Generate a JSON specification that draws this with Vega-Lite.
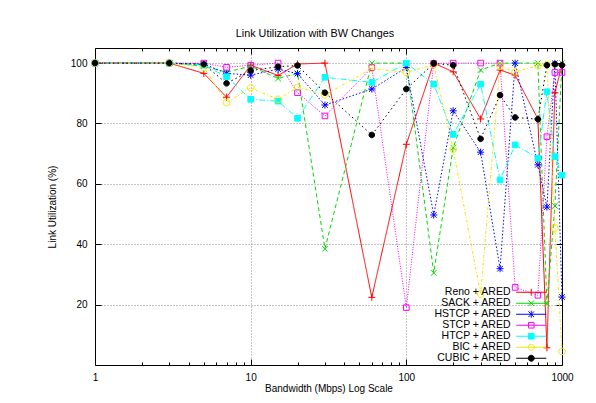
{
  "$schema": "https://vega.github.io/schema/vega-lite/v6.json",
  "width": 467,
  "height": 317,
  "autosize": {"type": "none"},
  "padding": {"left": 95, "top": 48, "right": 34, "bottom": 38},
  "background": "white",
  "title": {
    "text": "Link Utilization with BW Changes",
    "font": "Liberation Sans",
    "fontSize": 10.8,
    "fontWeight": "normal",
    "color": "#000",
    "frame": "group",
    "anchor": "middle",
    "dx": -13.5,
    "baseline": "alphabetic",
    "offset": -0.5
  },
  "config": {
    "view": {"stroke": "#000", "strokeWidth": 1},
    "font": "Liberation Sans",
    "axis": {
      "domain": false,
      "labelFont": "Liberation Sans",
      "labelFontSize": 10,
      "labelColor": "#000",
      "titleFont": "Liberation Sans",
      "titleFontSize": 10,
      "titleFontWeight": "normal",
      "titleColor": "#000",
      "tickColor": "#000",
      "tickWidth": 1,
      "gridColor": "#8a8a8a",
      "gridDash": [1, 2],
      "gridWidth": 1
    }
  },
  "data": {
    "values": [
      {"s": "Reno + ARED", "bw": 1, "u": 100}, {"s": "Reno + ARED", "bw": 3, "u": 100}, {"s": "Reno + ARED", "bw": 5, "u": 96.6}, {"s": "Reno + ARED", "bw": 7, "u": 88.7}, {"s": "Reno + ARED", "bw": 10, "u": 99.3}, {"s": "Reno + ARED", "bw": 15, "u": 95.9}, {"s": "Reno + ARED", "bw": 20, "u": 99.7}, {"s": "Reno + ARED", "bw": 30, "u": 100}, {"s": "Reno + ARED", "bw": 60, "u": 22.4}, {"s": "Reno + ARED", "bw": 100, "u": 73.1}, {"s": "Reno + ARED", "bw": 150, "u": 100}, {"s": "Reno + ARED", "bw": 200, "u": 97.1}, {"s": "Reno + ARED", "bw": 300, "u": 81.5}, {"s": "Reno + ARED", "bw": 400, "u": 97.7}, {"s": "Reno + ARED", "bw": 500, "u": 96}, {"s": "Reno + ARED", "bw": 700, "u": 81.5}, {"s": "Reno + ARED", "bw": 800, "u": 5.7}, {"s": "Reno + ARED", "bw": 900, "u": 90.2}, {"s": "Reno + ARED", "bw": 1000, "u": 99.3},
      {"s": "SACK + ARED", "bw": 1, "u": 100}, {"s": "SACK + ARED", "bw": 3, "u": 100}, {"s": "SACK + ARED", "bw": 5, "u": 99}, {"s": "SACK + ARED", "bw": 7, "u": 97}, {"s": "SACK + ARED", "bw": 10, "u": 99}, {"s": "SACK + ARED", "bw": 15, "u": 94.9}, {"s": "SACK + ARED", "bw": 20, "u": 96.6}, {"s": "SACK + ARED", "bw": 30, "u": 38.5}, {"s": "SACK + ARED", "bw": 60, "u": 100}, {"s": "SACK + ARED", "bw": 100, "u": 100}, {"s": "SACK + ARED", "bw": 150, "u": 30.5}, {"s": "SACK + ARED", "bw": 200, "u": 72}, {"s": "SACK + ARED", "bw": 300, "u": 97.7}, {"s": "SACK + ARED", "bw": 400, "u": 100}, {"s": "SACK + ARED", "bw": 500, "u": 100}, {"s": "SACK + ARED", "bw": 700, "u": 100}, {"s": "SACK + ARED", "bw": 800, "u": 20.3}, {"s": "SACK + ARED", "bw": 900, "u": 52.7}, {"s": "SACK + ARED", "bw": 1000, "u": 100},
      {"s": "HSTCP + ARED", "bw": 1, "u": 100}, {"s": "HSTCP + ARED", "bw": 3, "u": 100}, {"s": "HSTCP + ARED", "bw": 5, "u": 99.7}, {"s": "HSTCP + ARED", "bw": 7, "u": 96.6}, {"s": "HSTCP + ARED", "bw": 10, "u": 96}, {"s": "HSTCP + ARED", "bw": 15, "u": 98}, {"s": "HSTCP + ARED", "bw": 20, "u": 96.5}, {"s": "HSTCP + ARED", "bw": 30, "u": 86.1}, {"s": "HSTCP + ARED", "bw": 60, "u": 91.4}, {"s": "HSTCP + ARED", "bw": 100, "u": 98.5}, {"s": "HSTCP + ARED", "bw": 150, "u": 49.7}, {"s": "HSTCP + ARED", "bw": 200, "u": 84.2}, {"s": "HSTCP + ARED", "bw": 300, "u": 70.5}, {"s": "HSTCP + ARED", "bw": 400, "u": 31.9}, {"s": "HSTCP + ARED", "bw": 500, "u": 100}, {"s": "HSTCP + ARED", "bw": 700, "u": 66.3}, {"s": "HSTCP + ARED", "bw": 800, "u": 52.3}, {"s": "HSTCP + ARED", "bw": 900, "u": 99.9}, {"s": "HSTCP + ARED", "bw": 1000, "u": 22.5},
      {"s": "STCP + ARED", "bw": 1, "u": 100}, {"s": "STCP + ARED", "bw": 3, "u": 100}, {"s": "STCP + ARED", "bw": 5, "u": 100}, {"s": "STCP + ARED", "bw": 7, "u": 98.6}, {"s": "STCP + ARED", "bw": 10, "u": 99.3}, {"s": "STCP + ARED", "bw": 15, "u": 100}, {"s": "STCP + ARED", "bw": 20, "u": 90.2}, {"s": "STCP + ARED", "bw": 30, "u": 82.5}, {"s": "STCP + ARED", "bw": 60, "u": 98.5}, {"s": "STCP + ARED", "bw": 100, "u": 19}, {"s": "STCP + ARED", "bw": 150, "u": 99.9}, {"s": "STCP + ARED", "bw": 200, "u": 100}, {"s": "STCP + ARED", "bw": 300, "u": 100}, {"s": "STCP + ARED", "bw": 400, "u": 100}, {"s": "STCP + ARED", "bw": 500, "u": 25.7}, {"s": "STCP + ARED", "bw": 700, "u": 23.1}, {"s": "STCP + ARED", "bw": 800, "u": 75.6}, {"s": "STCP + ARED", "bw": 900, "u": 96.9}, {"s": "STCP + ARED", "bw": 1000, "u": 96.9},
      {"s": "HTCP + ARED", "bw": 1, "u": 100}, {"s": "HTCP + ARED", "bw": 3, "u": 100}, {"s": "HTCP + ARED", "bw": 5, "u": 99.3}, {"s": "HTCP + ARED", "bw": 7, "u": 95.5}, {"s": "HTCP + ARED", "bw": 10, "u": 88}, {"s": "HTCP + ARED", "bw": 15, "u": 87.4}, {"s": "HTCP + ARED", "bw": 20, "u": 81.7}, {"s": "HTCP + ARED", "bw": 30, "u": 95.3}, {"s": "HTCP + ARED", "bw": 60, "u": 93.6}, {"s": "HTCP + ARED", "bw": 100, "u": 100}, {"s": "HTCP + ARED", "bw": 150, "u": 93}, {"s": "HTCP + ARED", "bw": 200, "u": 76.4}, {"s": "HTCP + ARED", "bw": 300, "u": 93}, {"s": "HTCP + ARED", "bw": 400, "u": 61.3}, {"s": "HTCP + ARED", "bw": 500, "u": 72.9}, {"s": "HTCP + ARED", "bw": 700, "u": 68.5}, {"s": "HTCP + ARED", "bw": 800, "u": 90.5}, {"s": "HTCP + ARED", "bw": 900, "u": 69}, {"s": "HTCP + ARED", "bw": 1000, "u": 62.9},
      {"s": "BIC + ARED", "bw": 1, "u": 100}, {"s": "BIC + ARED", "bw": 3, "u": 100}, {"s": "BIC + ARED", "bw": 5, "u": 98.6}, {"s": "BIC + ARED", "bw": 7, "u": 86.9}, {"s": "BIC + ARED", "bw": 10, "u": 91.8}, {"s": "BIC + ARED", "bw": 15, "u": 88}, {"s": "BIC + ARED", "bw": 20, "u": 92}, {"s": "BIC + ARED", "bw": 30, "u": 89.5}, {"s": "BIC + ARED", "bw": 60, "u": 98.2}, {"s": "BIC + ARED", "bw": 100, "u": 96.9}, {"s": "BIC + ARED", "bw": 150, "u": 99.5}, {"s": "BIC + ARED", "bw": 200, "u": 71.4}, {"s": "BIC + ARED", "bw": 300, "u": 23.5}, {"s": "BIC + ARED", "bw": 400, "u": 99}, {"s": "BIC + ARED", "bw": 500, "u": 97.1}, {"s": "BIC + ARED", "bw": 700, "u": 99.1}, {"s": "BIC + ARED", "bw": 800, "u": 99.5}, {"s": "BIC + ARED", "bw": 900, "u": 45.4}, {"s": "BIC + ARED", "bw": 1000, "u": 4.5},
      {"s": "CUBIC + ARED", "bw": 1, "u": 100}, {"s": "CUBIC + ARED", "bw": 3, "u": 100}, {"s": "CUBIC + ARED", "bw": 5, "u": 99.6}, {"s": "CUBIC + ARED", "bw": 7, "u": 93.3}, {"s": "CUBIC + ARED", "bw": 10, "u": 97.5}, {"s": "CUBIC + ARED", "bw": 15, "u": 98.8}, {"s": "CUBIC + ARED", "bw": 20, "u": 99.2}, {"s": "CUBIC + ARED", "bw": 30, "u": 90.2}, {"s": "CUBIC + ARED", "bw": 60, "u": 76.2}, {"s": "CUBIC + ARED", "bw": 100, "u": 91.4}, {"s": "CUBIC + ARED", "bw": 150, "u": 99.9}, {"s": "CUBIC + ARED", "bw": 200, "u": 99.3}, {"s": "CUBIC + ARED", "bw": 300, "u": 74.9}, {"s": "CUBIC + ARED", "bw": 400, "u": 89.4}, {"s": "CUBIC + ARED", "bw": 500, "u": 82}, {"s": "CUBIC + ARED", "bw": 700, "u": 81.4}, {"s": "CUBIC + ARED", "bw": 800, "u": 99.3}, {"s": "CUBIC + ARED", "bw": 900, "u": 99.6}, {"s": "CUBIC + ARED", "bw": 1000, "u": 99.3}
    ]
  },
  "layer": [
    {
      "mark": {"type": "line", "strokeWidth": 1},
      "encoding": {
        "x": {
          "field": "bw", "type": "quantitative",
          "scale": {"type": "log", "domain": [1, 1000], "nice": false},
          "axis": {
            "orient": "bottom",
            "title": "Bandwidth (Mbps) Log Scale",
            "values": [1, 2, 3, 4, 5, 6, 7, 8, 9, 10, 20, 30, 40, 50, 60, 70, 80, 90, 100, 200, 300, 400, 500, 600, 700, 800, 900, 1000],
            "labelExpr": "indexof([1, 10, 100, 1000], datum.value) >= 0 ? format(datum.value, 'd') : ''",
            "tickSize": {"condition": {"test": "indexof([1, 10, 100, 1000], datum.value) >= 0", "value": -6}, "value": -3},
            "labelPadding": 13,
            "labelOverlap": false,
            "labelFlush": false,
            "grid": true,
            "gridOpacity": {"condition": {"test": "datum.value == 10 || datum.value == 100", "value": 1}, "value": 0},
            "titleX": 233.5,
            "titleY": 23,
            "titleBaseline": "middle",
            "titleAlign": "center"
          }
        },
        "y": {
          "field": "u", "type": "quantitative",
          "scale": {"domain": [0, 105], "nice": false, "zero": false},
          "axis": {
            "orient": "left",
            "title": "Link Utilization (%)",
            "values": [20, 40, 60, 80, 100],
            "tickSize": -6,
            "labelPadding": 14,
            "grid": true,
            "titleX": -43,
            "titleY": 158.5,
            "titleAngle": -90,
            "titleBaseline": "middle",
            "titleAlign": "center"
          }
        },
        "color": {
          "field": "s", "type": "nominal",
          "scale": {
            "domain": ["Reno + ARED", "SACK + ARED", "HSTCP + ARED", "STCP + ARED", "HTCP + ARED", "BIC + ARED", "CUBIC + ARED"],
            "range": ["#ff0000", "#00d800", "#0000ff", "#ff00ff", "#00ffff", "#f0e800", "#000000"]
          },
          "legend": {
            "orient": "none",
            "legendX": 431,
            "legendY": 239,
            "title": null,
            "padding": 0,
            "rowPadding": -1.8,
            "labelFont": "Liberation Sans",
            "labelFontSize": 10.5,
            "labelColor": "#000",
            "labelAlign": "right",
            "labelOffset": -26,
            "labelLimit": 200,
            "symbolSize": 49,
            "symbolStrokeWidth": 1,
            "encode": {
              "symbols": {
                "update": {
                  "shape": {"signal": "datum.value === 'Reno + ARED' ? 'M-4.3,0H4.3M0,-1V1' : datum.value === 'SACK + ARED' ? 'M-4.3,0H4.3M-0.8,-0.8L0.8,0.8M-0.8,0.8L0.8,-0.8' : datum.value === 'HSTCP + ARED' ? 'M-4.3,0H4.3M0,-1V1M-0.8,-0.8L0.8,0.8M-0.8,0.8L0.8,-0.8' : (datum.value === 'STCP + ARED' || datum.value === 'HTCP + ARED') ? 'M-4.3,0H4.3M-0.8,-0.8H0.8V0.8H-0.8Z' : 'M-4.3,0H4.3M0.85,0A0.85,0.85,0,1,1,-0.85,0A0.85,0.85,0,1,1,0.85,0Z'"},
                  "fill": {"signal": "datum.value === 'HTCP + ARED' ? '#00ffff' : datum.value === 'CUBIC + ARED' ? '#000000' : 'transparent'"},
                  "opacity": {"value": 1}
                }
              }
            }
          }
        },
        "strokeDash": {
          "field": "s", "type": "nominal",
          "sort": null,
          "scale": {
            "range": [[1, 0], [4, 3], [1.5, 2], [1, 1.5], [6, 2, 1, 2], [3, 2, 1, 2], [1.5, 3]]
          },
          "legend": null
        }
      }
    },
    {
      "mark": {"type": "point", "filled": false, "strokeWidth": 1, "size": 49, "opacity": 1},
      "encoding": {
        "x": {
          "field": "bw", "type": "quantitative",
          "scale": {"type": "log", "domain": [1, 1000], "nice": false},
          "axis": {
            "orient": "top",
            "title": null,
            "labels": false,
            "grid": false,
            "values": [1, 2, 3, 4, 5, 6, 7, 8, 9, 10, 20, 30, 40, 50, 60, 70, 80, 90, 100, 200, 300, 400, 500, 600, 700, 800, 900, 1000],
            "tickSize": {"condition": {"test": "indexof([1, 10, 100, 1000], datum.value) >= 0", "value": -6}, "value": -3}
          }
        },
        "y": {
          "field": "u", "type": "quantitative",
          "scale": {"domain": [0, 105], "nice": false, "zero": false},
          "axis": {
            "orient": "right",
            "title": null,
            "labels": false,
            "grid": false,
            "values": [20, 40, 60, 80, 100],
            "tickSize": -6
          }
        },
        "color": {
          "field": "s", "type": "nominal",
          "scale": {
            "domain": ["Reno + ARED", "SACK + ARED", "HSTCP + ARED", "STCP + ARED", "HTCP + ARED", "BIC + ARED", "CUBIC + ARED"],
            "range": ["#ff0000", "#00d800", "#0000ff", "#ff00ff", "#00ffff", "#f0e800", "#000000"]
          }
        },
        "shape": {
          "field": "s", "type": "nominal",
          "sort": null,
          "scale": {
            "range": [
              "M-1,0H1M0,-1V1",
              "M-0.8,-0.8L0.8,0.8M-0.8,0.8L0.8,-0.8",
              "M-1,0H1M0,-1V1M-0.8,-0.8L0.8,0.8M-0.8,0.8L0.8,-0.8",
              "M-0.8,-0.8H0.8V0.8H-0.8Z",
              "M-0.8,-0.8H0.8V0.8H-0.8Z",
              "M0.95,0A0.95,0.95,0,1,1,-0.95,0A0.95,0.95,0,1,1,0.95,0Z",
              "M0.8,0A0.8,0.8,0,1,1,-0.8,0A0.8,0.8,0,1,1,0.8,0Z"
            ]
          },
          "legend": null
        },
        "fill": {
          "field": "s", "type": "nominal",
          "sort": null,
          "scale": {
            "range": ["transparent", "transparent", "transparent", "transparent", "#00ffff", "transparent", "#000000"]
          },
          "legend": null
        }
      }
    }
  ],
  "resolve": {"axis": {"x": "independent", "y": "independent"}}
}
